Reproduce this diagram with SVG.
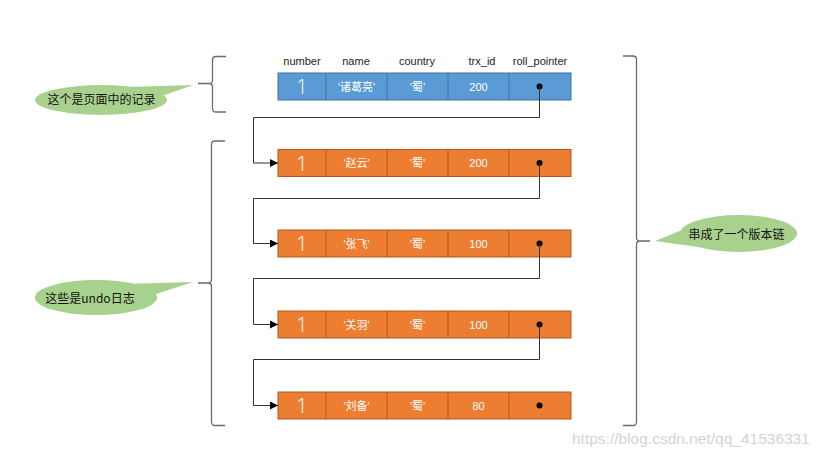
<svg xmlns="http://www.w3.org/2000/svg" width="823" height="457" viewBox="0 0 823 457">
<style>
.hdr{font-family:"Liberation Sans","Noto Sans CJK SC",sans-serif;font-size:11px;fill:#222;text-anchor:middle}
.cell{font-family:"Liberation Sans","Noto Sans CJK SC",sans-serif;font-size:11px;fill:#fff;text-anchor:middle;dominant-baseline:central}
.one{font-family:"Open Sans","Liberation Sans",sans-serif;font-size:20px;font-weight:300;fill:#fff;text-anchor:middle;dominant-baseline:central}
.blue rect{fill:#5B9BD5;stroke:#41719C;stroke-width:1}
.orange rect{fill:#ED7D31;stroke:#AE5A21;stroke-width:1}
.blue line,.orange line{stroke-width:1}
.blue line{stroke:#41719C}
.orange line{stroke:#AE5A21}
.dot{fill:#000}
.conn{fill:none;stroke:#333;stroke-width:1}
.brace{fill:none;stroke:#6b6b6b;stroke-width:1.3}
.bubble{fill:#A9D18E}
.btxt{font-family:"Noto Sans CJK SC","Liberation Sans",sans-serif;font-size:12px;fill:#111;text-anchor:middle;dominant-baseline:central}
.wm{font-family:"Liberation Sans",sans-serif;font-size:15.5px;fill:#d4d4d4}
</style>
<defs>
<marker id="arr" markerWidth="8" markerHeight="8" refX="8" refY="4" orient="auto" markerUnits="userSpaceOnUse">
<path d="M0,0 L8,4 L0,8 Z" fill="#000"/>
</marker>
</defs>

<g id="headers">
<text class="hdr" x="302" y="65">number</text>
<text class="hdr" x="356" y="65">name</text>
<text class="hdr" x="417" y="65">country</text>
<text class="hdr" x="482" y="65">trx_id</text>
<text class="hdr" x="540" y="65">roll_pointer</text>
</g>

<g id="row1" class="blue">
<rect x="278" y="73" width="293" height="27"/>
<line x1="326" y1="73" x2="326" y2="100"/><line x1="387" y1="73" x2="387" y2="100"/><line x1="448" y1="73" x2="448" y2="100"/><line x1="509" y1="73" x2="509" y2="100"/>
<text class="one" x="302" y="86.5">1</text>
<text class="cell" x="356.5" y="86.5">'诸葛亮'</text>
<text class="cell" x="417.5" y="86.5">'蜀'</text>
<text class="cell" x="478.5" y="86.5">200</text>
<circle class="dot" cx="539.5" cy="86.5" r="3"/>
</g>

<g id="row2" class="orange">
<rect x="278" y="149.5" width="293" height="27"/>
<line x1="326" y1="149.5" x2="326" y2="176.5"/><line x1="387" y1="149.5" x2="387" y2="176.5"/><line x1="448" y1="149.5" x2="448" y2="176.5"/><line x1="509" y1="149.5" x2="509" y2="176.5"/>
<text class="one" x="302" y="163">1</text>
<text class="cell" x="356.5" y="163">'赵云'</text>
<text class="cell" x="417.5" y="163">'蜀'</text>
<text class="cell" x="478.5" y="163">200</text>
<circle class="dot" cx="539.5" cy="163" r="3"/>
</g>

<g id="row3" class="orange">
<rect x="278" y="230" width="293" height="27"/>
<line x1="326" y1="230" x2="326" y2="257"/><line x1="387" y1="230" x2="387" y2="257"/><line x1="448" y1="230" x2="448" y2="257"/><line x1="509" y1="230" x2="509" y2="257"/>
<text class="one" x="302" y="243.5">1</text>
<text class="cell" x="356.5" y="243.5">'张飞'</text>
<text class="cell" x="417.5" y="243.5">'蜀'</text>
<text class="cell" x="478.5" y="243.5">100</text>
<circle class="dot" cx="539.5" cy="243.5" r="3"/>
</g>

<g id="row4" class="orange">
<rect x="278" y="311" width="293" height="27"/>
<line x1="326" y1="311" x2="326" y2="338"/><line x1="387" y1="311" x2="387" y2="338"/><line x1="448" y1="311" x2="448" y2="338"/><line x1="509" y1="311" x2="509" y2="338"/>
<text class="one" x="302" y="324.5">1</text>
<text class="cell" x="356.5" y="324.5">'关羽'</text>
<text class="cell" x="417.5" y="324.5">'蜀'</text>
<text class="cell" x="478.5" y="324.5">100</text>
<circle class="dot" cx="539.5" cy="324.5" r="3"/>
</g>

<g id="row5" class="orange">
<rect x="278" y="392" width="293" height="27"/>
<line x1="326" y1="392" x2="326" y2="419"/><line x1="387" y1="392" x2="387" y2="419"/><line x1="448" y1="392" x2="448" y2="419"/><line x1="509" y1="392" x2="509" y2="419"/>
<text class="one" x="302" y="405.5">1</text>
<text class="cell" x="356.5" y="405.5">'刘备'</text>
<text class="cell" x="417.5" y="405.5">'蜀'</text>
<text class="cell" x="478.5" y="405.5">80</text>
<circle class="dot" cx="539.5" cy="405.5" r="3"/>
</g>

<g id="connectors">
<path class="conn" d="M539.5,86.5 V117.5 H253.5 V163 H278" marker-end="url(#arr)"/>
<path class="conn" d="M539.5,163 V198.5 H253.5 V243.5 H278" marker-end="url(#arr)"/>
<path class="conn" d="M539.5,243.5 V278.5 H253.5 V324.5 H278" marker-end="url(#arr)"/>
<path class="conn" d="M539.5,324.5 V359.5 H253.5 V405.5 H278" marker-end="url(#arr)"/>
</g>

<g id="braces">
<path class="brace" d="M226,56.5 H216 Q212.5,56.5 212.5,60 V80 Q212.5,83.5 209,83.5 H198 H209 Q212.5,83.5 212.5,87 V108.5 Q212.5,112 216,112 H226"/>
<path class="brace" d="M225,141 H215 Q211.5,141 211.5,144.5 V279.5 Q211.5,283 208,283 H198 H208 Q211.5,283 211.5,286.5 V422 Q211.5,425.5 215,425.5 H225"/>
<path class="brace" d="M623,56 H633 Q636.5,56 636.5,59.5 V237.5 Q636.5,241 640,241 H650 H640 Q636.5,241 636.5,244.5 V422 Q636.5,425.5 633,425.5 H623"/>
</g>

<g id="callout-record">
<path class="bubble" d="M125,87 L193,85 L162,96 Z"/>
<ellipse class="bubble" cx="101" cy="100" rx="66" ry="15"/>
<text class="btxt" x="101.5" y="98.5">这个是页面中的记录</text>
</g>

<g id="callout-undo">
<path class="bubble" d="M120,284 L193,282 L150,296 Z"/>
<ellipse class="bubble" cx="96" cy="297.5" rx="61" ry="17.5"/>
<text class="btxt" x="90" y="297.5">这些是undo日志</text>
</g>

<g id="callout-chain">
<path class="bubble" d="M692,226 L655,241 L705,248 Z"/>
<ellipse class="bubble" cx="738.5" cy="233.5" rx="58.5" ry="18.5"/>
<text class="btxt" x="736.5" y="233.5">串成了一个版本链</text>
</g>

<text class="wm" x="572" y="444">https://blog.csdn.net/qq_41536331</text>
</svg>
